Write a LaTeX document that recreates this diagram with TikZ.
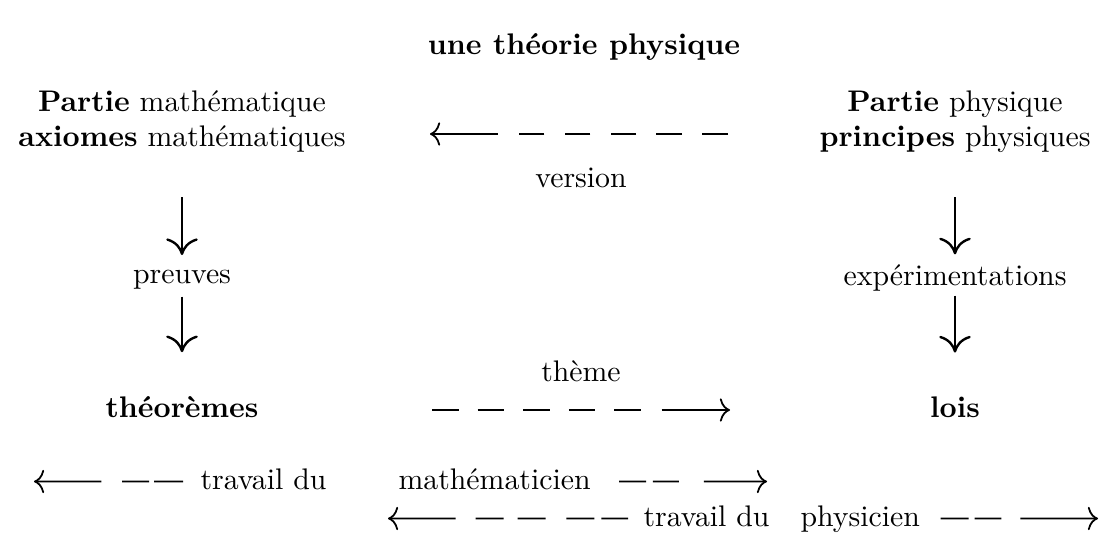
\documentclass[tikz,border=0pt]{standalone}
\usepackage{tikz}
\usetikzlibrary{arrows.meta}
\tikzset{
  lbl/.style={inner sep=0pt, anchor=base},
  lblw/.style={inner sep=0pt, anchor=base west},
  titre/.style={lbl, font=\bfseries},
  fleche/.style={line width=0.6pt, -{Computer Modern Rightarrow[length=3.4pt,width=7.8pt]}},
  descente/.style={line width=0.8pt, -{Computer Modern Rightarrow[length=5.6pt,width=10.6pt]}}
}
\begin{document}
\begin{tikzpicture}[x=0.3356pt, y=-0.3356pt]
  \path[use as bounding box] (0,0) rectangle (1106,545);
  % titre
  \node[titre] (titre) at (584,54) {une théorie physique};
  % partie mathematique
  \node[lbl] (pm) at (182,111) {\textbf{Partie} mathématique};
  \node[lbl] (am) at (182,146) {\textbf{axiomes} mathématiques};
  \node[lbl] (preuves) at (182,283) {preuves};
  \node[lbl] (theoremes) at (182,417) {\textbf{théorèmes}};
  % partie physique
  \node[lbl] (pp) at (955,111) {\textbf{Partie} physique};
  \node[lbl] (ap) at (955,146) {\textbf{principes} physiques};
  \node[lbl] (exper) at (955,285) {expérimentations};
  \node[lbl] (lois) at (955,417) {\textbf{lois}};
  % milieu
  \node[lbl] (version) at (581,187) {version};
  \node[lbl] (theme) at (581,381) {thème};
  % lignes du bas
  \node[lblw] (trm) at (200,489) {travail du};
  \node[lblw] (mathn) at (398,489) {mathématicien};
  \node[lblw] (trp) at (643,526) {travail du};
  \node[lblw] (phys) at (800,526) {physicien};

  \coordinate (v-a) at (728,134);
  \coordinate (v-b) at (430,134);
  \coordinate (t-a) at (432,410);
  \coordinate (t-b) at (730,410);

  % fleches verticales
  \draw[descente, shorten <=15pt, shorten >=4.7pt] (am) -- (preuves);
  \draw[descente, shorten <=2.4pt, shorten >=14.5pt] (preuves) -- (theoremes);
  \draw[descente, shorten <=15pt, shorten >=3.1pt] (ap) -- (exper);
  \draw[descente, shorten <=1.4pt, shorten >=14.5pt] (exper) -- (lois);

  % version et theme
  \draw[fleche, dash pattern=on 8.6pt off 6.8pt on 8.6pt off 6.8pt on 8.6pt off 6.8pt on 8.6pt off 6.8pt on 8.6pt off 7pt on 40pt]
    (v-a) -- (v-b);
  \draw[fleche, dash pattern=on 8.9pt off 6.4pt on 8.9pt off 6.4pt on 8.9pt off 6.4pt on 8.9pt off 6.4pt on 8.9pt off 7pt on 40pt]
    (t-a) -- (t-b);

  % travail du mathematicien
  \draw[fleche, dash pattern=on 9.7pt off 1.7pt on 9pt off 7pt on 40pt]
    ([xshift=-5.7pt, yshift=2.5pt]trm.base west) -- (34,481.5);
  \draw[fleche, dash pattern=on 9pt off 2.3pt on 8.7pt off 8.4pt on 40pt]
    ([xshift=9.4pt, yshift=2.5pt]mathn.base east) -- (767,481.5);
  % travail du physicien
  \draw[fleche, dash pattern=on 9pt off 2.3pt on 9.4pt off 7pt on 9.4pt off 4.7pt on 9.4pt off 6.7pt on 40pt]
    ([xshift=-5pt, yshift=2.5pt]trp.base west) -- (388,518.5);
  \draw[fleche, dash pattern=on 9.4pt off 2pt on 9pt off 6.4pt on 40pt]
    ([xshift=6.7pt, yshift=2.5pt]phys.base east) -- (1098,518.5);
\end{tikzpicture}
\end{document}
